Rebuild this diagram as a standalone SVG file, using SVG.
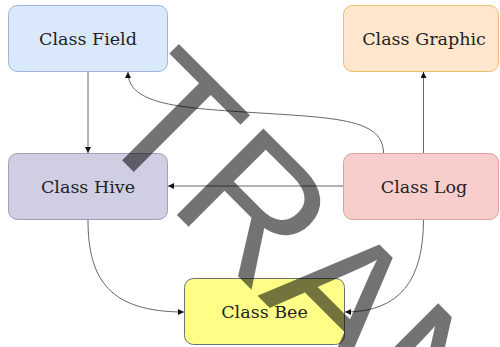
<svg xmlns="http://www.w3.org/2000/svg" width="500" height="347" viewBox="0 0 500 347">
<style>
  .box { stroke-width: 1; }
  .lbl { font-family: "DejaVu Serif", serif; font-size: 17.5px; fill: #222; text-anchor: middle; }
  .edge { fill: none; stroke: #666; stroke-width: 1; }
  .wm { font-family: "Liberation Sans", Arial, sans-serif; font-size: 178px; fill: #000; fill-opacity: 0.55; }
</style>
<defs>
  <marker id="arr" viewBox="0 0 10 10" refX="10" refY="5" markerWidth="6" markerHeight="6" markerUnits="userSpaceOnUse" orient="auto">
    <path d="M0,0 L10,5 L0,10 Z" fill="#111"/>
  </marker>
</defs>
<rect width="500" height="347" fill="#ffffff"/>
<g id="connectors">
  <path class="edge" d="M88,72 L88,153" marker-end="url(#arr)"/>
  <path class="edge" d="M383.5,153 C383,120 340,118 260,113 C180,108 128,105 128,72" marker-end="url(#arr)"/>
  <path class="edge" d="M423.5,153 L423.5,72" marker-end="url(#arr)"/>
  <path class="edge" d="M344,186 L168,186" marker-end="url(#arr)"/>
  <path class="edge" d="M88,220 C88,280 110,312 184,312" marker-end="url(#arr)"/>
  <path class="edge" d="M423.5,219.5 C423.5,280 400,312 345,312" marker-end="url(#arr)"/>
</g>
<g id="field">
  <rect class="box" x="8.5" y="5.5" width="159" height="66" rx="9" fill="#dae8fc" stroke="#9db5dc"/>
  <text class="lbl" x="88" y="45">Class Field</text>
</g>
<g id="graphic">
  <rect class="box" x="343.5" y="5.5" width="155" height="66" rx="9" fill="#ffe6cc" stroke="#e8c06a"/>
  <text class="lbl" x="424" y="45">Class Graphic</text>
</g>
<g id="hive">
  <rect class="box" x="8.5" y="153.5" width="159" height="66" rx="9" fill="#d0cee2" stroke="#a09cbf"/>
  <text class="lbl" x="88" y="192.5">Class Hive</text>
</g>
<g id="log">
  <rect class="box" x="343.5" y="153.5" width="155" height="66" rx="9" fill="#f8cecc" stroke="#dd9f9d"/>
  <text class="lbl" x="424" y="192.5">Class Log</text>
</g>
<g id="bee">
  <rect class="box" x="184.5" y="278.5" width="160" height="66" rx="9" fill="#ffff88" stroke="#6d6f72"/>
  <text class="lbl" x="264.5" y="318">Class Bee</text>
</g>
<text class="wm" transform="rotate(45)" x="153.7" y="27.1">TRAN</text>
</svg>
